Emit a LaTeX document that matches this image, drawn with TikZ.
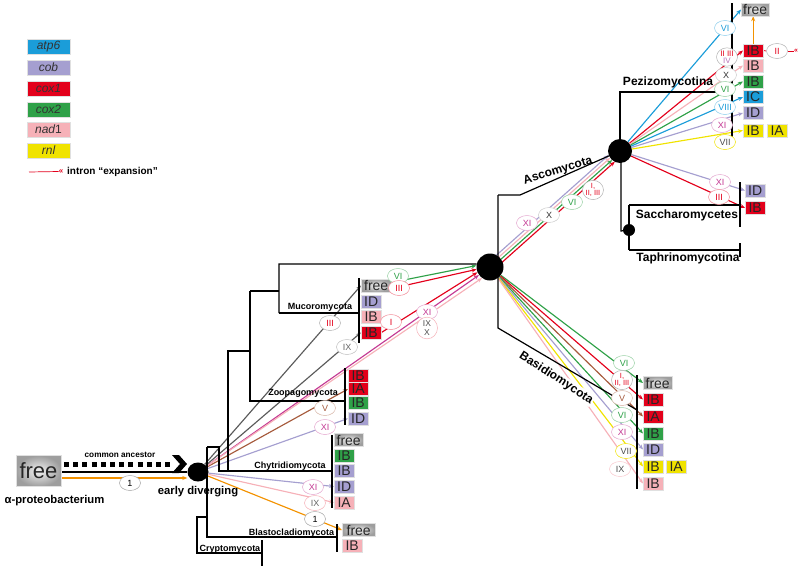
\documentclass[tikz,border=0pt]{standalone}
\usepackage{fontspec}
\setmainfont{Liberation Sans}
\usetikzlibrary{shapes.geometric,arrows.meta,calc,backgrounds}
\definecolor{cblue}{HTML}{1B9DD9}
\definecolor{clav}{HTML}{A59FD0}
\definecolor{cred}{HTML}{E3001B}
\definecolor{cgreen}{HTML}{2FA148}
\definecolor{cpink}{HTML}{F6B1B8}
\definecolor{cyellow}{HTML}{F0E300}
\definecolor{cmag}{HTML}{C43A94}
\definecolor{cbrown}{HTML}{A65A3C}
\definecolor{corange}{HTML}{F39200}
\definecolor{cgray}{HTML}{5A5A5A}
\begin{document}
\begin{tikzpicture}[x=1pt,y=-1pt,
  gb/.style={anchor=west, minimum width=20pt, minimum height=13pt, inner sep=0pt, font=\fontsize{14}{14}\selectfont, text=black!85, draw=black!12, line width=0.4pt},
  fr/.style={gb, inner color=black!5, outer color=black!38, minimum width=#1},
  legbox/.style={minimum width=43pt, minimum height=15pt, inner sep=0pt, font=\itshape\fontsize{12}{12}\selectfont, text=black!80, draw=black!12, line width=0.4pt},
  bnode/.style={fill=black, draw=none, inner sep=0pt},
  intr/.style={ellipse, draw=#1, fill=white, line width=0.5pt, minimum width=21pt, minimum height=15pt, inner sep=0pt, font=\fontsize{9}{9}\selectfont},
  lab8/.style={font=\bfseries\fontsize{8.2}{9}\selectfont, inner sep=0pt},
  lab9/.style={font=\bfseries\fontsize{9}{10}\selectfont, inner sep=0pt},
  lab11/.style={font=\bfseries\fontsize{11.3}{12}\selectfont, inner sep=0pt},
  lab12/.style={font=\bfseries\fontsize{12}{13}\selectfont, inner sep=0pt},
  gl/.style={line width=1.15pt, -{Stealth[length=5pt,width=4pt]}},
  tline/.style={line width=1.2pt, black},
  gbar/.style={line width=2.2pt, black},
]
\useasboundingbox (0,0) rectangle (800,570);

% ---------- legend ----------
\node[legbox,fill=cblue] (lg1) at (48.5,46.5) {atp6};
\node[legbox,fill=clav] (lg2) at (48.5,67.5) {cob};
\node[legbox,fill=cred] (lg3) at (48.5,88.5) {cox1};
\node[legbox,fill=cgreen] (lg4) at (48.5,109.5) {cox2};
\node[legbox,fill=cpink] (lg5) at (48.5,129.5) {nad\upshape 1};
\node[legbox,fill=cyellow] (lg6) at (48.5,150.5) {rnl};
\coordinate (ie1) at (29,172);
\node[inner sep=0pt, text=cred, font=\bfseries\fontsize{8}{8}\selectfont] (ieg) at (61,171.5) {«};
\node[anchor=west, inner sep=0pt, font=\bfseries\fontsize{10}{11}\selectfont] (ietx) at (67,172) {intron “expansion”};

% ---------- main nodes ----------
\node[bnode, ellipse, minimum width=21pt, minimum height=19pt] (root) at (198,472) {};
\node[bnode, circle, minimum size=27pt] (dik) at (490,267) {};
\node[bnode, circle, minimum size=24pt] (pez) at (620,151) {};
\node[bnode, circle, minimum size=12pt] (sac) at (629,230) {};

\node[fr=45pt, anchor=center, minimum height=31pt, font=\fontsize{22}{22}\selectfont] (lfree) at (38.5,471) {free};

% Pezizomycotina
\node[fr=28pt] (pfree) at (741,9.5) {free};
\node[gb,fill=cred] (pIBr) at (743,50.5) {IB};
\node[gb,fill=cpink] (pIBp) at (743,65.5) {IB};
\node[gb,fill=cgreen] (pIBg) at (743,81.5) {IB};
\node[gb,fill=cblue] (pIC) at (743,97) {IC};
\node[gb,fill=clav] (pID) at (743,113) {ID};
\node[gb,fill=cyellow] (pIBy) at (743,130.5) {IB};
\node[gb,fill=cyellow] (pIAy) at (767,130.5) {IA};
% Saccharomycetes
\node[gb,fill=clav] (sID) at (745,190.5) {ID};
\node[gb,fill=cred] (sIB) at (745,208) {IB};
% Basidiomycota
\node[fr=29pt] (bfree) at (643,383) {free};
\node[gb,fill=cred] (bIBr) at (643,399.5) {IB};
\node[gb,fill=cred] (bIAr) at (643,416.5) {IA};
\node[gb,fill=cgreen] (bIBg) at (643,433.5) {IB};
\node[gb,fill=clav] (bID) at (643,449.5) {ID};
\node[gb,fill=cyellow] (bIBy) at (643,466.5) {IB};
\node[gb,fill=cyellow] (bIAy) at (666,466.5) {IA};
\node[gb,fill=cpink] (bIBp) at (643,483.5) {IB};
% Mucoromycota
\node[fr=30pt] (mfree) at (361,285.5) {free};
\node[gb,fill=clav] (mID) at (361,302) {ID};
\node[gb,fill=cpink] (mIBp) at (361,317) {IB};
\node[gb,fill=cred] (mIBr) at (361,332.5) {IB};
% Zoopagomycota
\node[gb,fill=cred] (zIBr) at (348,375.5) {IB};
\node[gb,fill=cred] (zIAr) at (348,389) {IA};
\node[gb,fill=cgreen] (zIBg) at (348,403) {IB};
\node[gb,fill=clav] (zID) at (348,418.5) {ID};
% Chytridiomycota
\node[fr=29pt] (cfree) at (334,440) {free};
\node[gb,fill=cgreen] (cIBg) at (334,455.5) {IB};
\node[gb,fill=clav] (cIBl) at (334,471) {IB};
\node[gb,fill=clav] (cIDl) at (334,486.5) {ID};
\node[gb,fill=cpink] (cIAp) at (334,502.5) {IA};
% Blastocladiomycota
\node[fr=33pt] (blfree) at (342,530) {free};
\node[gb,fill=cpink] (blIB) at (342,545.5) {IB};

% ---------- labels ----------
\node[lab9] (tMuc) at (320,307) {Mucoromycota};
\node[lab9] (tZoo) at (303,393) {Zoopagomycota};
\node[lab9] (tChy) at (290,466) {Chytridiomycota};
\node[lab9] (tBla) at (291.5,533) {Blastocladiomycota};
\node[lab9] (tCry) at (230,549) {Cryptomycota};
\node[lab12] (tSac) at (687,215) {Saccharomycetes};
\node[lab12] (tTap) at (688,258) {Taphrinomycotina};
\node[lab12] (tPez) at (668,82) {Pezizomycotina};
\node[lab12, rotate=17] (tAsc) at (558,171) {Ascomycota};
\node[lab12, rotate=-33, fill=white, inner sep=0.8pt] (tBas) at (556,378) {Basidiomycota};
\node[lab11] (tED) at (198,492) {early diverging};
\node[lab11] (tAP) at (54.5,501) {α-proteobacterium};
\node[lab8] (tCA) at (120,455) {common ancestor};

% ---------- intron circles ----------
\node[intr=black!35] (c01) at (130,483) {1};
\node[intr=black!35] (c02) at (315,519) {1};
\node[intr=cpink, text=black!60] (c03) at (315,503) {IX};
\node[intr=cmag!45, text=cmag] (c04) at (313,487) {XI};
\node[intr=cmag!45, text=cmag] (c05) at (325,427) {XI};
\node[intr=cbrown!45, text=cbrown] (c06) at (325,408) {V};
\node[intr=black!25, text=black!60] (c07) at (347,347) {IX};
\node[intr=black!30, text=cred] (c08) at (330,323) {III};
\node[intr=cred!45, text=cred] (c09) at (391,322) {I};
\node[intr=cgreen!50, text=cgreen] (c10) at (398,276) {VI};
\node[intr=cred!45, text=cred] (c11) at (399,288) {III};
\node[intr=cmag!45, text=cmag] (c12) at (427,312) {XI};
\node[intr=cpink, text=black!70, minimum height=21pt, align=center, font=\fontsize{8.5}{9.5}\selectfont] (c13) at (427,328) {IX\\X};
\node[intr=cmag!45, text=cmag] (c14) at (527,223) {XI};
\node[intr=black!20, text=black!80] (c15) at (549,215) {X};
\node[intr=cgreen!50, text=cgreen] (c16) at (572,202) {VI};
\node[intr=black!30, text=cred, align=center, minimum height=17pt, font=\fontsize{7.5}{7.5}\selectfont] (c17) at (593,190) {I,\\II, III};
% Basidiomycota
\node[intr=cgreen!50, text=cgreen] (c18) at (624,363) {VI};
\node[intr=black!30, text=cred, align=center, minimum height=17pt, font=\fontsize{7.5}{7.5}\selectfont] (c19) at (622,380) {I,\\II, III};
\node[intr=cbrown!45, text=cbrown] (c20) at (622,398) {V};
\node[intr=cgreen!50, text=cgreen] (c21) at (622,415) {VI};
\node[intr=cmag!45, text=cmag] (c22) at (622,432) {XI};
\node[intr=cyellow, text=black!70] (c23) at (626,451) {VII};
\node[intr=cpink!70, text=black!70] (c24) at (620,469) {IX};
% Pezizomycotina
\node[intr=cblue!50, text=cblue] (c25) at (725,28) {VI};
\node[intr=black!30, align=center, minimum height=17pt, font=\fontsize{8}{7.5}\selectfont] (c26) at (727,57) {\textcolor{cred}{II III}\\\textcolor{violet!55}{IV}};
\node[intr=black!20, text=black!80] (c27) at (726,75) {X};
\node[intr=cgreen!50, text=cgreen] (c28) at (725,89) {VI};
\node[intr=cblue!50, text=cblue] (c29) at (725,107) {VIII};
\node[intr=cmag!45, text=cmag] (c30) at (722,125) {XI};
\node[intr=cyellow, text=black!70] (c31) at (725,142) {VII};
\node[intr=cmag!45, text=cmag] (c32) at (720,182) {XI};
\node[intr=cred!45, text=cred] (c33) at (719,197) {III};
\node[intr=black!30, text=cred] (c34) at (777,51) {II};
\node[inner sep=0pt, text=cred, font=\bfseries\fontsize{7}{7}\selectfont] (guil) at (796,51) {«};

% ---------- connectors (behind nodes) ----------
\begin{scope}[on background layer]
  % from root
  \draw[gl, corange] (root) -- (blfree.west);
  \draw[gl, cpink] (root) -- (cIAp.west);
  \draw[gl, clav] (root) -- (cIDl.west);
  \draw[gl, clav] (root) -- (zID.west);
  \draw[gl, cbrown] (root) -- (zIAr.west);
  \draw[gl, cmag] (root) -- (dik.216);
  \draw[gl, cpink] (root) -- (dik.234);
  \draw[gl, cgray] (root) -- (mIBr.west);
  \draw[gl, cgray] (root) -- (mfree.west);
  % Mucoromycota to Dikarya
  \draw[gl, cgreen] ($(mfree.east)+(0,-3)$) -- (dik.174);
  \draw[gl, cred] ($(mfree.east)+(0,3)$) -- (dik.190);
  \draw[gl, cred] (mIBr.east) -- (dik.203);
  % Ascomycota bundle
  \draw[gl, clav, shorten >=11pt] ($(dik)+(-3,-3.4)$) -- ($(pez)+(-3,-3.4)$);
  \draw[gl, cpink, shorten >=11.9pt] ($(dik)+(-1,-1.1)$) -- ($(pez)+(-1,-1.1)$);
  \draw[gl, cgreen, shorten >=11.9pt] ($(dik)+(1,1.1)$) -- ($(pez)+(1,1.1)$);
  \draw[gl, cred, shorten >=11pt] ($(dik)+(3,3.4)$) -- ($(pez)+(3,3.4)$);
  % Pezizomycotina
  \draw[gl, cblue] (pez) -- (pfree.west);
  \draw[gl, cred] (pez) -- (pIBr.west);
  \draw[gl, cpink] (pez) -- (pIBp.west);
  \draw[gl, cgreen] (pez) -- (pIBg.west);
  \draw[gl, cblue] (pez) -- (pIC.west);
  \draw[gl, clav] (pez) -- (pID.west);
  \draw[gl, cyellow] (pez) -- (pIBy.west);
  \draw[gl, clav] (pez) -- (sID.west);
  \draw[gl, cred] (pez) -- (sIB.west);
  \draw[gl, corange] (pIBr.north) -- (pIBr.north |- pfree.south);
  \draw[cred, line width=0.8pt] (pIBr.east) -- (c34.west);
  \draw[cred, line width=0.8pt] (c34.east) -- (guil.west);
  % Basidiomycota
  \draw[gl, cgreen] (dik) -- (bfree.west);
  \draw[gl, cred] (dik) -- (bIBr.west);
  \draw[gl, cbrown] (dik) -- (bIAr.west);
  \draw[gl, cgreen] (dik) -- (bIBg.west);
  \draw[gl, clav] (dik) -- (bID.west);
  \draw[gl, cyellow] (dik) -- (bIBy.west);
  \draw[gl, cpink] (dik) -- (bIBp.west);
  % legend line
  \draw[cred, line width=0.7pt] (ie1) -- (ieg.west);

  % ---------- tree ----------
  \coordinate (a1) at (62,472);
  \coordinate (a2) at (62,478);
  \coordinate (a3) at (64,464);
  \coordinate (a4) at (170,464);
  \draw[black, line width=1.8pt] (a1) -- (root);
  \draw[gl, corange] (a2) -- (a2 -| root.west);
  \draw[black, line width=5pt, dash pattern=on 5pt off 4.2pt] (a3) -- (a4);
  \fill[black] (172,455) -- (179,455) -- (187,464) -- (179,473) -- (172,473) -- (180,464) -- cycle;

  \draw[tline] (207,447) -- (207,537) -- (337,537);
  \draw[tline] (207,517) -- (197,517) -- (197,553) -- (262,553);
  \draw[tline] (262,540) -- (262,566);
  \draw[tline] (207,447) -- (219,447) -- (219,471) -- (332,471);
  \draw[tline] (228,471) -- (228,351) -- (250,351);
  \draw[tline] (250,291) -- (250,401) -- (345,401);
  \draw[tline] (250,291) -- (279,291);
  \draw[tline] (279,313) -- (279,264) -- (dik.167);
  \draw[tline] (279,313) -- (359,313);
  \draw[gbar] (359,278) -- (359,343);
  \draw[gbar] (345,368) -- (345,425);
  \draw[gbar] (332,435) -- (332,508);
  \draw[gbar] (337,524) -- (337,552);
  \draw[gbar] (637,375) -- (637,489);
  \draw[gbar] (732,3) -- (732,137);
  \draw[gbar] (740,182) -- (740,227);
  \draw[tline] (740,243) -- (740,257);
  \draw[tline] (498,195) -- (498,328) -- (637,410);
  \draw[tline] (498,195) -- (520,195) -- (pez);
  \draw[tline] (pez.center) |- (732,92);
  \draw[tline] (621,151) -- (621,231) -- (sac.center);
  \draw[tline] (629,205) -- (629,250);
  \draw[tline] (629,205) -- (740,205);
  \draw[tline] (629,250) -- (740,250);
\end{scope}
\end{tikzpicture}
\end{document}
